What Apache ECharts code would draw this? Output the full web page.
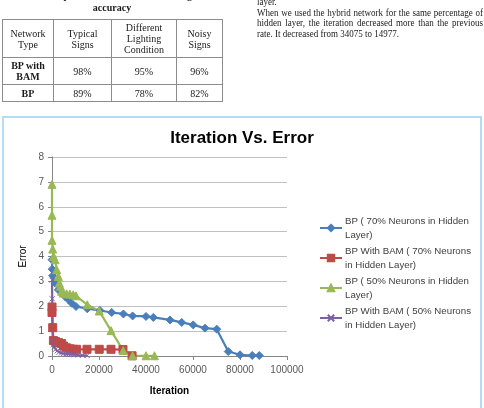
<!DOCTYPE html>
<html>
<head>
<meta charset="utf-8">
<script src="https://cdn.jsdelivr.net/npm/echarts@6/dist/echarts.min.js"></script>
<style>
  body { margin: 0; width: 484px; height: 408px; overflow: hidden; background: #fff; position: relative; }
  #chart { position: absolute; left: 0; top: 0; width: 484px; height: 408px; }
  .frame { position: absolute; left: 2px; top: 116px; width: 476px; height: 300px; border: 2px solid #b3dcf5; }
  .serif { font-family: "Liberation Serif", "DejaVu Serif", serif; color: #1a1a1a; }
  .caption { position: absolute; left: 2px; top: -10px; width: 220px; text-align: center; font-weight: bold; font-size: 10px; line-height: 12px; }
  table { position: absolute; left: 2px; top: 19px; border-collapse: collapse; font-size: 10px; line-height: 11px; }
  td { border: 1px solid #8c8c8c; text-align: center; padding: 0; }
  .para { position: absolute; left: 257px; top: -3px; width: 251px; font-size: 10px; line-height: 10.7px; transform: scaleX(0.9); transform-origin: 0 0; }
  .j { text-align: justify; text-align-last: justify; }
</style>
</head>
<body>
<div class="frame"></div>
<div id="chart"></div>
<div class="caption serif">Table 3. Comparison results based on recognition<br>accuracy</div>
<table class="serif">
  <tr style="height:38px"><td style="width:50px">Network<br>Type</td><td style="width:57px">Typical<br>Signs</td><td style="width:64px">Different<br>Lighting<br>Condition</td><td style="width:45px">Noisy<br>Signs</td></tr>
  <tr style="height:27px"><td><b>BP with<br>BAM</b></td><td>98%</td><td>95%</td><td>96%</td></tr>
  <tr style="height:17px"><td><b>BP</b></td><td>89%</td><td>78%</td><td>82%</td></tr>
</table>
<div class="para serif">
  <div>layer.</div>
  <div class="j">When we used the hybrid network for the same percentage of</div>
  <div class="j">hidden layer, the iteration decreased more than the previous</div>
  <div>rate. It decreased from 34075 to 14977.</div>
</div>
<script>
// series names (legend)
const names = [
  'BP ( 70% Neurons in Hidden\nLayer)',
  'BP With BAM ( 70% Neurons\nin Hidden Layer)',
  'BP ( 50% Neurons in Hidden\nLayer)',
  'BP With BAM ( 50% Neurons\nin Hidden Layer)'
];

// BP 70%
const bp70X = [0, 100, 300, 1300, 2700, 4100, 5500, 7000, 8400, 10200, 15000, 20400, 25400, 30400, 34300, 40000, 43100, 50200, 55200, 60100, 65100, 70100, 75000, 80000, 85200, 88200];
const bp70Y = [3.87, 3.49, 3.23, 2.93, 2.66, 2.53, 2.39, 2.26, 2.12, 1.99, 1.9, 1.83, 1.75, 1.69, 1.61, 1.59, 1.55, 1.45, 1.35, 1.25, 1.12, 1.08, 0.18, 0.05, 0.02, 0.02];

// BP with BAM 70%
const bam70X = [0, 0, 300, 600, 1500, 2700, 4100, 4900, 6200, 7600, 9000, 10400, 14900, 20100, 25100, 30200, 34075];
const bam70Y = [1.97, 1.75, 1.14, 0.62, 0.58, 0.54, 0.5, 0.4, 0.33, 0.29, 0.27, 0.27, 0.27, 0.27, 0.27, 0.26, 0.01];

// BP 50%
const bp50X = [0, 0, 0, 300, 700, 1300, 2000, 2700, 3100, 3600, 4100, 4800, 6200, 7600, 9000, 10200, 15000, 20100, 25100, 30300, 34300, 40000, 43600];
const bp50Y = [6.9, 5.66, 4.65, 4.3, 4.0, 3.87, 3.47, 3.2, 2.93, 2.8, 2.6, 2.53, 2.5, 2.49, 2.46, 2.42, 2.06, 1.81, 1.02, 0.22, 0.01, 0.01, 0.01];

// BP with BAM 50%
const bam50X = [0, 100, 300, 600, 1000, 1500, 2200, 3000, 4000, 5000, 6000, 7000, 8000, 9500, 11000, 13000, 14977];
const bam50Y = [3.05, 2.3, 0.65, 0.45, 0.35, 0.27, 0.2, 0.15, 0.12, 0.1, 0.08, 0.07, 0.06, 0.05, 0.04, 0.03, 0.02];

const colors = ['#4a7ebb', '#be4b48', '#98b954', '#7d60a0'];
const zip = (xs, ys) => xs.map((x, i) => [x, ys[i]]);

const chart = echarts.init(document.getElementById('chart'), null, { renderer: 'canvas' });

function lineSeries(i, data, symbol, size) {
  return {
    name: names[i],
    type: 'line',
    data: data,
    symbol: symbol,
    symbolSize: size,
    showAllSymbol: true,
    animation: false,
    lineStyle: { color: colors[i], width: 2.2 },
    itemStyle: { color: colors[i], borderColor: colors[i], borderWidth: 1 }
  };
}

const option = {
  textStyle: { fontFamily: 'Liberation Sans' },
  title: {
    text: 'Iteration Vs. Error',
    left: 'center',
    top: 125,
    textStyle: { fontSize: 17, fontWeight: 'bold', color: '#000', fontFamily: 'Liberation Sans' }
  },
  legend: {
    orient: 'vertical',
    left: 319,
    top: 207,
    padding: 0,
    itemWidth: 22,
    itemHeight: 8,
    itemGap: -12,
    textStyle: { fontSize: 9.7, color: '#404040', lineHeight: 14, padding: [14, 0, 0, -2] },
    data: names
  },
  grid: { left: 52, top: 157, width: 235, height: 199 },
  xAxis: {
    type: 'value',
    min: 0, max: 100000, interval: 20000,
    name: 'Iteration',
    nameLocation: 'middle',
    nameGap: 30,
    nameTextStyle: { fontSize: 10, fontWeight: 'bold', color: '#000' },
    axisLine: { lineStyle: { color: '#868686' } },
    axisTick: { show: true, length: 4, lineStyle: { color: '#868686' } },
    axisLabel: { fontSize: 10, color: '#595959', margin: 9, formatter: v => String(v) },
    splitLine: { show: false }
  },
  yAxis: {
    type: 'value',
    min: 0, max: 8, interval: 1,
    name: 'Error',
    nameLocation: 'middle',
    nameGap: 24,
    nameTextStyle: { fontSize: 10, color: '#000' },
    axisLine: { show: true, lineStyle: { color: '#868686' } },
    axisTick: { show: true, length: 4, lineStyle: { color: '#868686' } },
    axisLabel: { fontSize: 10, color: '#595959', margin: 8 },
    splitLine: { lineStyle: { color: '#c0c0c0' } }
  },
  series: [
    lineSeries(0, zip(bp70X, bp70Y), 'diamond', 8),
    lineSeries(1, zip(bam70X, bam70Y), 'rect', 8),
    lineSeries(2, zip(bp50X, bp50Y), 'triangle', 8),
    lineSeries(3, zip(bam50X, bam50Y), 'path://M0,0L10,10M10,0L0,10', 5)
  ]
};

chart.setOption(option);
</script>
</body>
</html>
